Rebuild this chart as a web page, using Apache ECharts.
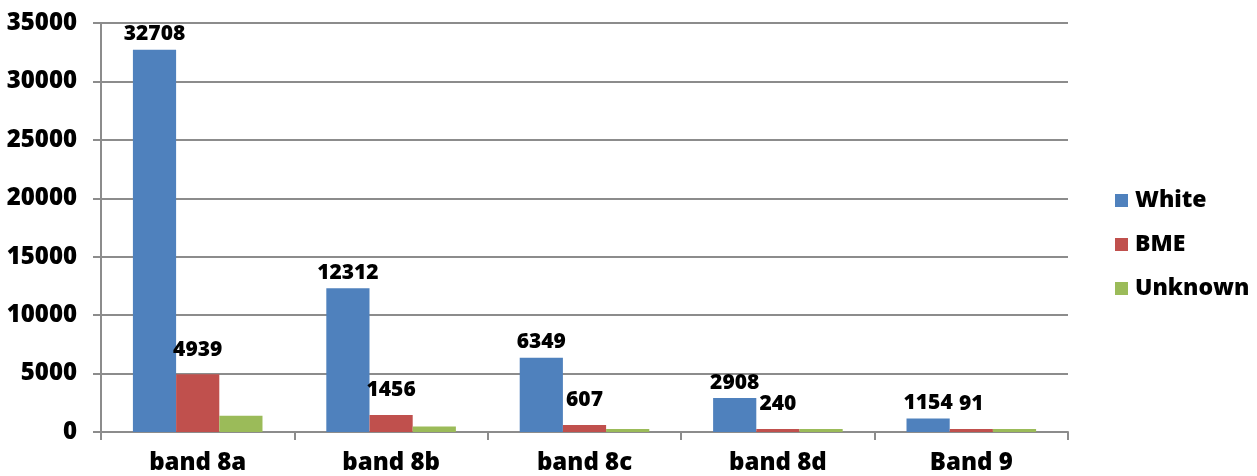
<!DOCTYPE html>
<html>
<head>
<meta charset="utf-8">
<script src="https://cdn.jsdelivr.net/npm/echarts@6/dist/echarts.min.js"></script>
<style>
html,body{margin:0;padding:0;background:#fff;}
#chart{width:1257px;height:476px;}
</style>
</head>
<body>
<div id="chart"></div>
<script>
const categories = ['band 8a', 'band 8b', 'band 8c', 'band 8d', 'Band 9'];
const whiteValues = [32708, 12312, 6349, 2908, 1154];
const bmeValues = [4939, 1456, 607, 240, 91];
const unknownValues = [1380, 470, 250, 250, 250];
const yTicks = [0, 5000, 10000, 15000, 20000, 25000, 30000, 35000];

const FONT = 'Open Sans';
const WEIGHT = 800;
const chart = echarts.init(document.getElementById('chart'));
const labelStyle = {
  show: true, position: 'top', color: '#000', fontFamily: FONT,
  fontWeight: WEIGHT, fontSize: 21
};
chart.setOption({
  animation: false,
  backgroundColor: '#fff',
  grid: { left: 101, right: 189, top: 23, bottom: 44, containLabel: false },
  legend: {
    orient: 'vertical', left: 1110, top: 184,
    itemWidth: 13, itemHeight: 13, itemGap: 21,
    icon: 'rect',
    textStyle: { fontFamily: FONT, fontWeight: WEIGHT, fontSize: 23, color: '#000', padding: [0, 0, 0, 2] },
    data: ['White', 'BME', 'Unknown']
  },
  xAxis: {
    type: 'category', data: categories,
    axisLine: { lineStyle: { color: '#8c8c8c', width: 2 } },
    axisTick: { show: true, length: 8, lineStyle: { color: '#8c8c8c', width: 2 } },
    axisLabel: { margin: 19, color: '#000', fontFamily: FONT, fontWeight: WEIGHT, fontSize: 24 }
  },
  yAxis: {
    type: 'value', min: yTicks[0], max: yTicks[yTicks.length - 1], interval: 5000,
    axisLine: { show: true, lineStyle: { color: '#8c8c8c', width: 2 } },
    axisTick: { show: true, length: 8, lineStyle: { color: '#8c8c8c', width: 2 } },
    splitLine: { lineStyle: { color: '#8c8c8c', width: 2 } },
    axisLabel: { margin: 24, color: '#000', fontFamily: FONT, fontWeight: WEIGHT, fontSize: 24,
      formatter: function (v) { return String(v); } }
  },
  series: [
    { name: 'White', type: 'bar', data: whiteValues, barGap: '0%', barCategoryGap: '33%',
      itemStyle: { color: '#4F81BD' }, label: Object.assign({}, labelStyle, { distance: 5 }) },
    { name: 'BME', type: 'bar', data: bmeValues, barGap: '0%', barCategoryGap: '33%', barMinHeight: 3,
      itemStyle: { color: '#C0504D' }, label: Object.assign({}, labelStyle, { distance: 14 }) },
    { name: 'Unknown', type: 'bar', data: unknownValues, barGap: '0%', barCategoryGap: '33%',
      itemStyle: { color: '#9BBB59' } }
  ]
});
</script>
</body>
</html>
